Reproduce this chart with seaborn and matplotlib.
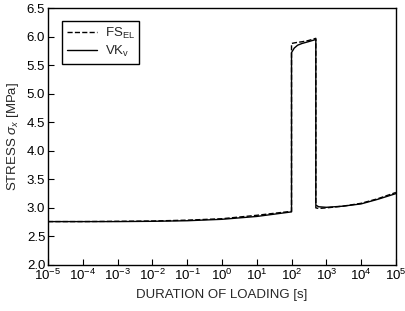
import matplotlib
matplotlib.use("Agg")
import matplotlib.pyplot as plt
import matplotlib.ticker as mticker
import seaborn as sns
import pandas as pd

# duration of loading [s] and stress [MPa]
t = [1e-5, 1e-4, 1e-3, 1e-2, 1e-1, 1e0, 1e1, 1e2, 1e2, 1.2e2, 1.5e2, 2e2, 3e2, 5e2,
     5e2, 6e2, 1e3, 3e3, 1e4, 3e4, 1e5]
fs_el = [2.76, 2.76, 2.765, 2.77, 2.785, 2.81, 2.87, 2.94, 5.88, 5.89, 5.90, 5.91, 5.93, 5.97,
         3.00, 2.99, 3.00, 3.03, 3.08, 3.16, 3.27]
vk_v = [2.76, 2.76, 2.76, 2.765, 2.775, 2.80, 2.85, 2.93, 5.72, 5.80, 5.85, 5.88, 5.91, 5.95,
        3.05, 3.02, 3.01, 3.03, 3.07, 3.15, 3.25]

df = pd.DataFrame({"t": t, "fs": fs_el, "vk": vk_v})

sns.set_theme(style="ticks")
plt.rcParams['font.family'] = ['Liberation Sans', 'DejaVu Sans']
plt.rcParams['mathtext.fontset'] = 'custom'
plt.rcParams['mathtext.rm'] = 'Liberation Sans'
plt.rcParams['mathtext.it'] = 'Liberation Sans:italic'

fig = plt.figure(figsize=(4.05, 3.11), dpi=100)
ax = fig.add_axes([0.1185, 0.148, 0.859, 0.826])

sns.lineplot(data=df, x="t", y="fs", ax=ax, color="black", linestyle="--", lw=1.0,
             sort=False, estimator=None, label=r"FS$_\mathrm{EL}$")
sns.lineplot(data=df, x="t", y="vk", ax=ax, color="black", lw=1.0,
             sort=False, estimator=None, label=r"VK$_\mathrm{v}$")

ax.set_xscale("log")
ax.set_xlim(1e-5, 1e5)
ax.set_ylim(2.0, 6.5)
ax.xaxis.set_major_locator(mticker.LogLocator(base=10, numticks=20))
ax.xaxis.set_minor_locator(mticker.NullLocator())
ax.yaxis.set_major_locator(mticker.MultipleLocator(0.5))
ax.yaxis.set_major_formatter(mticker.FormatStrFormatter("%.1f"))
ax.tick_params(direction="in", length=4, width=0.8, labelsize=9.5, colors="black", pad=2)
for s in ax.spines.values():
    s.set_linewidth(1.0)
    s.set_color("black")

ax.set_xlabel("DURATION OF LOADING [s]", fontsize=9.5, labelpad=4)
ax.set_ylabel(r"STRESS $\sigma_x$ [MPa]", fontsize=9.5, labelpad=4)

leg = ax.legend(loc="upper left", bbox_to_anchor=(0.04, 0.95), fontsize=9.5, fancybox=False,
                edgecolor="black", framealpha=1, handlelength=2.3, borderpad=0.35,
                labelspacing=0.25, handletextpad=0.6, borderaxespad=0)
leg.get_frame().set_linewidth(1.0)

fig.savefig("out.png", dpi=100)
